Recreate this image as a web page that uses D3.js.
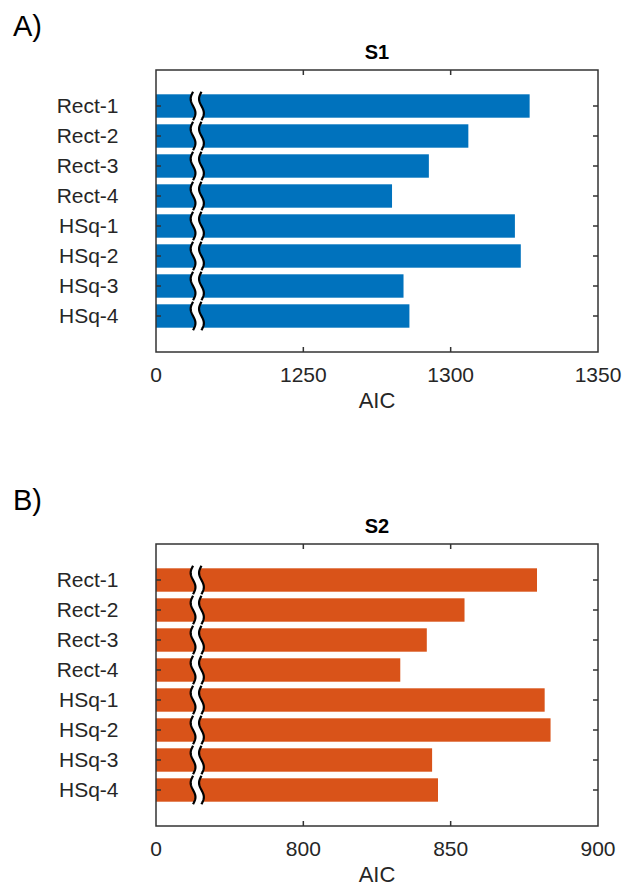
<!DOCTYPE html>
<html lang="en">
<head>
  <meta charset="utf-8">
  <title>AIC per model - S1 and S2</title>
  <script src="https://cdnjs.cloudflare.com/ajax/libs/d3/7.8.5/d3.min.js"></script>
  <style>
    body { margin: 0; background: #fff; }
    svg { display: block; }
    text { font-family: "Liberation Sans", Arial, sans-serif; fill: #262626; }
  </style>
</head>
<body>
  <svg id="chart" width="624" height="886"></svg>

  <script>
    // data
    const models = ['Rect-1', 'Rect-2', 'Rect-3', 'Rect-4', 'HSq-1', 'HSq-2', 'HSq-3', 'HSq-4'];
    const aicS1 = [1326.8, 1306, 1292.6, 1280.1, 1321.8, 1323.8, 1284, 1286];
    const aicS2 = [879.3, 854.7, 841.9, 832.9, 881.9, 883.9, 843.7, 845.7];

    const ticksS1 = [1200, 1250, 1300, 1350];
    const tickLabelsS1 = ['0', '1250', '1300', '1350'];
    const ticksS2 = [750, 800, 850, 900];
    const tickLabelsS2 = ['0', '800', '850', '900'];

    // the axis is broken: the first tick stands for 0
    const breakS1 = 1214;
    const breakS2 = 764;

    const svg = d3.select('#chart');

    drawPanel({ top: 70, letter: 'A)', title: 'S1', values: aicS1, ticks: ticksS1,
      tickLabels: tickLabelsS1, breakAt: breakS1, color: '#0072BD' });
    drawPanel({ top: 544, letter: 'B)', title: 'S2', values: aicS2, ticks: ticksS2,
      tickLabels: tickLabelsS2, breakAt: breakS2, color: '#D95319' });

    function drawPanel(p) {
      const left = 156, right = 598;
      const top = p.top, bottom = p.top + 282;
      const axisColor = '#333';
      const g = svg.append('g');

      const x = d3.scaleLinear()
        .domain([p.ticks[0], p.ticks[p.ticks.length - 1]])
        .range([left, right]);

      const y = d3.scaleBand()
        .domain(models)
        .range([top, bottom])
        .paddingInner(0.22)
        .paddingOuter(0.81);

      const rows = models.map((m, i) => ({ model: m, value: p.values[i] }));

      // bars
      g.selectAll('rect.bar')
        .data(rows)
        .enter()
        .append('rect')
        .attr('class', 'bar')
        .attr('x', x(p.ticks[0]))
        .attr('y', d => y(d.model))
        .attr('width', d => x(d.value) - x(p.ticks[0]))
        .attr('height', y.bandwidth())
        .attr('fill', p.color);

      // break marks on each bar
      const xb = x(p.breakAt);
      const gap = 4.2, amp = 2.4;
      const wave = (d, side) => d3.range(0, 25).map(k => {
        const t = k / 24;
        const y0 = y(d.model) - 2.5, y1 = y(d.model) + y.bandwidth() + 2.5;
        return [xb + side * gap - amp * Math.sin(2 * Math.PI * t), y0 + t * (y1 - y0)];
      });
      const line = d3.line();

      g.selectAll('path.gapfill')
        .data(rows)
        .enter()
        .append('path')
        .attr('d', d => line(wave(d, -1).concat(wave(d, 1).reverse())) + 'Z')
        .attr('fill', '#fff');

      [-1, 1].forEach(side => {
        g.selectAll(null)
          .data(rows)
          .enter()
          .append('path')
          .attr('d', d => line(wave(d, side)))
          .attr('fill', 'none')
          .attr('stroke', '#000')
          .attr('stroke-width', 2.2);
      });

      // box
      g.append('rect')
        .attr('x', left)
        .attr('y', top)
        .attr('width', right - left)
        .attr('height', bottom - top)
        .attr('fill', 'none')
        .attr('stroke', axisColor)
        .attr('stroke-width', 1.5);

      // x ticks (inward, mirrored on top)
      const inner = p.ticks.slice(1, -1);
      g.selectAll(null)
        .data(inner)
        .enter()
        .append('path')
        .attr('d', v => `M${x(v)},${bottom}v-5M${x(v)},${top}v5`)
        .attr('stroke', axisColor)
        .attr('stroke-width', 1.5);

      g.selectAll(null)
        .data(p.ticks)
        .enter()
        .append('text')
        .attr('x', v => x(v))
        .attr('y', bottom + 30)
        .attr('text-anchor', 'middle')
        .style('font-size', '21px')
        .text((v, i) => p.tickLabels[i]);

      // y ticks (inward, mirrored on the right)
      g.selectAll(null)
        .data(models)
        .enter()
        .append('path')
        .attr('d', m => {
          const c = y(m) + y.bandwidth() / 2;
          return `M${left},${c}h5M${right},${c}h-5`;
        })
        .attr('stroke', axisColor)
        .attr('stroke-width', 1.5);

      g.selectAll(null)
        .data(models)
        .enter()
        .append('text')
        .attr('x', left - 37.5)
        .attr('y', m => y(m) + y.bandwidth() / 2)
        .attr('dy', '0.35em')
        .attr('text-anchor', 'end')
        .style('font-size', '21px')
        .text(m => m);

      // labels
      g.append('text')
        .attr('x', (left + right) / 2)
        .attr('y', bottom + 55.5)
        .attr('text-anchor', 'middle')
        .style('font-size', '22px')
        .text('AIC');

      g.append('text')
        .attr('x', (left + right) / 2)
        .attr('y', top - 10.7)
        .attr('text-anchor', 'middle')
        .style('font-size', '20px')
        .style('font-weight', 'bold')
        .style('fill', '#000')
        .text(p.title);

      g.append('text')
        .attr('x', 13)
        .attr('y', top - 34)
        .style('font-size', '29px')
        .style('fill', '#000')
        .text(p.letter);
    }
  </script>
</body>
</html>
